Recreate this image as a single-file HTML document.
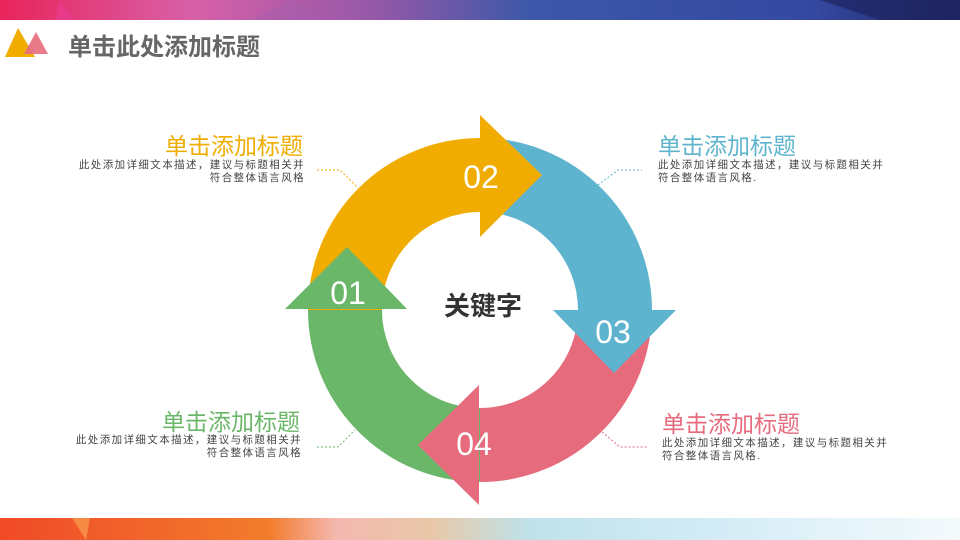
<!DOCTYPE html>
<html><head><meta charset="utf-8"><style>
body{margin:0;width:960px;height:540px;overflow:hidden;background:#fff;font-family:"Liberation Sans","Noto Sans CJK SC",sans-serif;position:relative}
.t{position:absolute;font-size:23px;line-height:26px;white-space:nowrap}
.d{position:absolute;font-size:10.5px;letter-spacing:1.4px;line-height:13px;color:#444;white-space:nowrap}
.r{text-align:right}
</style></head><body>
<svg width="960" height="540" style="position:absolute;left:0;top:0">
<defs>
<linearGradient id="tg" x1="0" x2="1"><stop offset="0" stop-color="#e8245a"/><stop offset=".2" stop-color="#d860a8"/><stop offset=".4" stop-color="#9158a8"/><stop offset=".55" stop-color="#3d58a8"/><stop offset=".85" stop-color="#3448a0"/><stop offset="1" stop-color="#1e2460"/></linearGradient>
<linearGradient id="bg" x1="0" x2="1"><stop offset="0" stop-color="#f04a28"/><stop offset=".28" stop-color="#f27c2c"/><stop offset=".35" stop-color="#f4b8b0"/><stop offset=".45" stop-color="#e8c8a8"/><stop offset=".55" stop-color="#bfe2ea"/><stop offset=".75" stop-color="#d4ecf6"/><stop offset="1" stop-color="#f4fafc"/></linearGradient>
</defs>
<rect x="0" y="0" width="960" height="20" fill="url(#tg)"/>
<polygon points="60,0 75,20 55,20" fill="#ec3a98" opacity=".6"/>
<polygon points="290,0 330,20 250,20" fill="#a060b0" opacity=".4"/>
<polygon points="820,0 960,0 960,20 880,20" fill="#1e2460" opacity=".7"/>
<rect x="0" y="518" width="960" height="22" fill="url(#bg)"/>
<polygon points="72,518 90,518 86,540" fill="#f8a050" opacity=".7"/>
<polygon points="18,28 35,57 5,57" fill="#f0ac00"/>
<polygon points="36,32 48,54 24,54" fill="#e66b7d" opacity=".9"/>
<g fill="none" stroke-width="74">
<path d="M480 445 A135 135 0 0 1 345 310" stroke="#6bb76a"/>
<path d="M345 310 A135 135 0 0 1 480 175" stroke="#f0ac00"/>
<path d="M480 175 A135 135 0 0 1 615 310" stroke="#5eb4ce"/>
<path d="M615 310 A135 135 0 0 1 480 445" stroke="#e66b7d"/>
</g>
<polygon points="285,309 407,309 347,247" fill="#6bb76a"/>
<polygon points="480,115 480,237 542,175" fill="#f0ac00"/>
<polygon points="553,310 676,310 614,373" fill="#5eb4ce"/>
<polygon points="479,385 479,505 418,445" fill="#e66b7d"/>
<g fill="#fff" font-size="32" text-anchor="middle" font-family="Liberation Sans,sans-serif">
<text x="481" y="188">02</text><text x="348" y="304">01</text><text x="613" y="343">03</text><text x="474" y="455">04</text>
</g>
<text x="483" y="315" text-anchor="middle" font-size="26" font-weight="bold" fill="#333" font-family="Liberation Sans,Noto Sans CJK SC,sans-serif">关键字</text>
<g fill="none" stroke-width="1" stroke-dasharray="2,2">
<polyline points="317,170 340,170 358,188" stroke="#f0ac00"/>
<polyline points="598,185 618,170 642,170" stroke="#5eb4ce"/>
<polyline points="317,447 338,447 355,430" stroke="#6bb76a"/>
<polyline points="602,432 620,447 647,447" stroke="#e66b7d"/>
</g>
</svg>
<div style="position:absolute;left:68px;top:33px;font-size:24px;font-weight:bold;color:#666;line-height:30px">单击此处添加标题</div>

<div class="t r" style="right:657px;top:133px;color:#f0ac00">单击添加标题</div>
<div class="d r" style="right:655px;top:159px">此处添加详细文本描述，建议与标题相关并<br>符合整体语言风格</div>

<div class="t" style="left:658px;top:133px;color:#5eb4ce">单击添加标题</div>
<div class="d" style="left:658px;top:159px">此处添加详细文本描述，建议与标题相关并<br>符合整体语言风格.</div>

<div class="t r" style="right:660px;top:409px;color:#6bb76a">单击添加标题</div>
<div class="d r" style="right:658px;top:434px">此处添加详细文本描述，建议与标题相关并<br>符合整体语言风格</div>

<div class="t" style="left:662px;top:411px;color:#e66b7d">单击添加标题</div>
<div class="d" style="left:662px;top:437px">此处添加详细文本描述，建议与标题相关并<br>符合整体语言风格.</div>
</body></html>
